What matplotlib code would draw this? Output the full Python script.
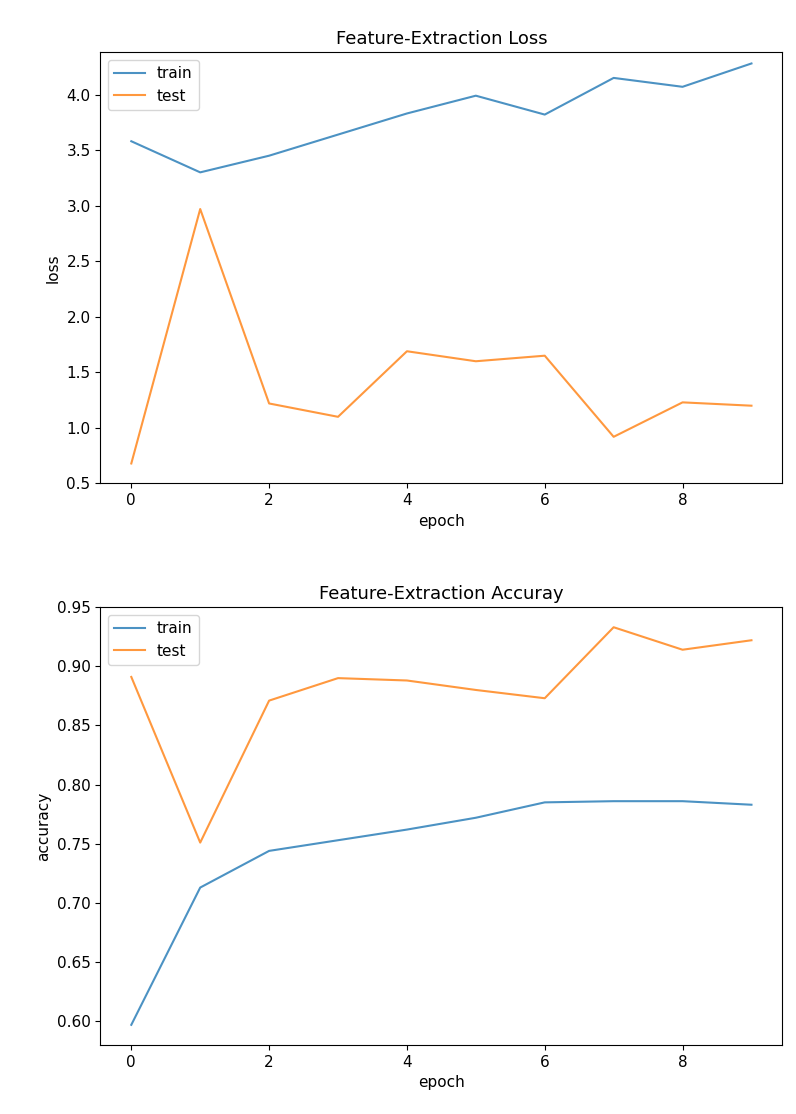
import matplotlib
matplotlib.use("Agg")
import matplotlib.pyplot as plt

epochs = list(range(10))
loss_train = [3.58, 3.30, 3.45, 3.64, 3.83, 3.99, 3.82, 4.15, 4.07, 4.28]
loss_test = [0.68, 2.97, 1.22, 1.10, 1.69, 1.60, 1.65, 0.92, 1.23, 1.20]
acc_train = [0.597, 0.713, 0.744, 0.753, 0.762, 0.772, 0.785, 0.786, 0.786, 0.783]
acc_test = [0.891, 0.751, 0.871, 0.890, 0.888, 0.880, 0.873, 0.933, 0.914, 0.922]

plt.rcParams['font.size'] = 11
fig = plt.figure(figsize=(7.96, 11.14), dpi=100)

ax1 = fig.add_axes([0.126, 0.566, 0.857, 0.387])
ax1.plot(epochs, loss_train, color='#1f77b4', alpha=0.8, label='train')
ax1.plot(epochs, loss_test, color='#ff7f0e', alpha=0.8, label='test')
ax1.set_title('Feature-Extraction Loss', fontsize=13)
ax1.set_xlabel('epoch')
ax1.set_ylabel('loss')
ax1.set_xticks([0, 2, 4, 6, 8])
ax1.set_ylim(0.5, 4.38)
ax1.legend(loc='upper left')

ax2 = fig.add_axes([0.126, 0.062, 0.857, 0.393])
ax2.plot(epochs, acc_train, color='#1f77b4', alpha=0.8, label='train')
ax2.plot(epochs, acc_test, color='#ff7f0e', alpha=0.8, label='test')
ax2.set_title('Feature-Extraction Accuray', fontsize=13)
ax2.set_xlabel('epoch')
ax2.set_ylabel('accuracy')
ax2.set_xticks([0, 2, 4, 6, 8])
ax2.set_ylim(0.58, 0.95)
ax2.legend(loc='upper left')

fig.savefig('out.png', dpi=100)
